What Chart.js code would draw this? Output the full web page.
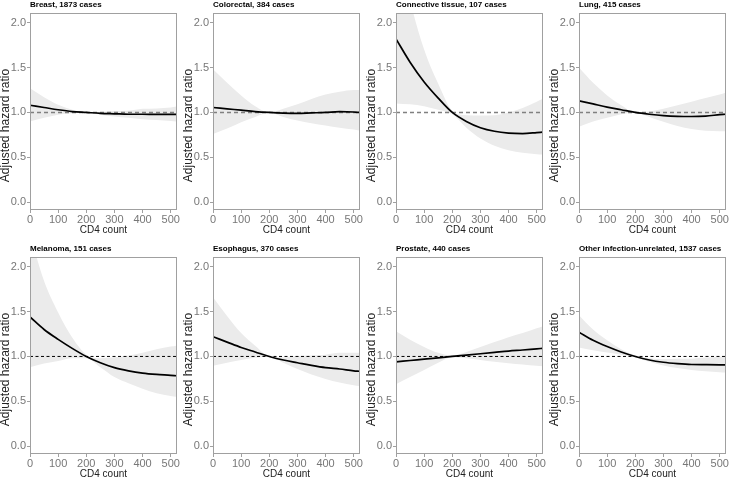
<!DOCTYPE html>
<html><head><meta charset="utf-8">
<script src="https://cdn.jsdelivr.net/npm/chart.js@4.4.1/dist/chart.umd.min.js"></script>
<style>
html,body{margin:0;padding:0;background:#fff;width:729px;height:478px;overflow:hidden;position:relative}
canvas{position:absolute}
</style></head><body>
<script>
// ---- data ----
const cd4 = [0, 50, 100, 150, 200, 250, 300, 350, 400, 450, 500, 520];
const xTicks = [0, 100, 200, 300, 400, 500];
const yTicks = [0, 0.5, 1, 1.5, 2];
const refX = [0, 522];
const refY = [1, 1];
const xTitle = "CD4 count";
const yTitle = "Adjusted hazard ratio";
const panelTitles = ["Breast, 1873 cases", "Colorectal, 384 cases", "Connective tissue, 107 cases", "Lung, 415 cases",
  "Melanoma, 151 cases", "Esophagus, 370 cases", "Prostate, 440 cases", "Other infection-unrelated, 1537 cases"];

const breastEst = [1.08, 1.055, 1.03, 1.01, 1.0, 0.99, 0.985, 0.98, 0.98, 0.978, 0.978, 0.978];
const breastLo  = [0.90, 0.94, 0.975, 0.992, 1.0, 0.975, 0.955, 0.94, 0.925, 0.915, 0.905, 0.90];
const breastHi  = [1.27, 1.17, 1.085, 1.03, 1.0, 1.005, 1.015, 1.02, 1.04, 1.045, 1.055, 1.065];

const colorectalEst = [1.055, 1.04, 1.025, 1.01, 1.0, 0.993, 0.99, 0.995, 1.0, 1.008, 1.005, 1.0];
const colorectalLo  = [0.76, 0.82, 0.89, 0.95, 1.0, 0.95, 0.91, 0.88, 0.855, 0.83, 0.81, 0.80];
const colorectalHi  = [1.48, 1.33, 1.19, 1.07, 1.0, 1.04, 1.09, 1.15, 1.20, 1.23, 1.25, 1.25];

const connectiveEst = [1.82, 1.56, 1.34, 1.16, 1.0, 0.90, 0.83, 0.79, 0.77, 0.765, 0.775, 0.78];
const connectiveLo  = [1.10, 1.09, 1.07, 1.03, 0.98, 0.83, 0.71, 0.63, 0.58, 0.55, 0.535, 0.53];
const connectiveHi  = [3.0, 2.25, 1.70, 1.32, 1.02, 0.97, 0.965, 0.97, 1.0, 1.05, 1.12, 1.15];

const lungEst = [1.13, 1.095, 1.06, 1.03, 1.0, 0.98, 0.965, 0.957, 0.955, 0.96, 0.975, 0.98];
const lungLo  = [0.84, 0.90, 0.94, 0.98, 1.0, 0.95, 0.895, 0.85, 0.815, 0.795, 0.79, 0.79];
const lungHi  = [1.50, 1.33, 1.19, 1.08, 1.0, 1.01, 1.04, 1.08, 1.12, 1.16, 1.20, 1.22];

const melanomaEst = [1.44, 1.30, 1.19, 1.09, 1.0, 0.93, 0.875, 0.84, 0.815, 0.80, 0.79, 0.785];
const melanomaLo  = [0.88, 0.92, 0.95, 0.98, 0.98, 0.88, 0.77, 0.70, 0.64, 0.59, 0.56, 0.55];
const melanomaHi  = [2.36, 1.84, 1.49, 1.21, 1.02, 0.98, 0.99, 1.01, 1.04, 1.08, 1.11, 1.12];

const esophagusEst = [1.22, 1.16, 1.10, 1.05, 1.0, 0.96, 0.93, 0.90, 0.875, 0.86, 0.84, 0.835];
const esophagusLo  = [0.895, 0.93, 0.96, 0.985, 1.0, 0.93, 0.86, 0.80, 0.75, 0.71, 0.68, 0.67];
const esophagusHi  = [1.66, 1.45, 1.26, 1.12, 1.0, 0.99, 1.005, 1.01, 1.02, 1.04, 1.04, 1.04];

const prostateEst = [0.94, 0.955, 0.97, 0.985, 1.0, 1.015, 1.03, 1.045, 1.06, 1.072, 1.085, 1.09];
const prostateLo  = [0.69, 0.77, 0.85, 0.93, 0.99, 0.98, 0.96, 0.94, 0.925, 0.91, 0.895, 0.89];
const prostateHi  = [1.28, 1.185, 1.105, 1.04, 1.01, 1.05, 1.105, 1.16, 1.215, 1.26, 1.315, 1.335];

const otherEst = [1.27, 1.18, 1.11, 1.05, 1.0, 0.96, 0.935, 0.92, 0.91, 0.908, 0.907, 0.907];
const otherLo  = [1.10, 1.07, 1.045, 1.02, 0.99, 0.94, 0.90, 0.87, 0.85, 0.835, 0.825, 0.82];
const otherHi  = [1.46, 1.30, 1.18, 1.08, 1.01, 0.98, 0.97, 0.973, 0.975, 0.987, 0.997, 1.003];

// ---- layout / style ----
const FONT = "'Liberation Sans', Arial, Helvetica, sans-serif";
Chart.defaults.font.family = FONT;
const series = [
  [breastEst, breastLo, breastHi], [colorectalEst, colorectalLo, colorectalHi],
  [connectiveEst, connectiveLo, connectiveHi], [lungEst, lungLo, lungHi],
  [melanomaEst, melanomaLo, melanomaHi], [esophagusEst, esophagusLo, esophagusHi],
  [prostateEst, prostateLo, prostateHi], [otherEst, otherLo, otherHi]
];
const boxLefts = [30, 213, 396, 579];
const boxTops = [13, 257];

const xy = (xs, ys) => xs.map((x, i) => ({x: x, y: ys[i]}));

const framePlugin = {
  id: 'frame',
  afterDatasetsDraw(chart) {
    const {ctx, chartArea: a} = chart;
    ctx.save();
    ctx.strokeStyle = '#a0a0a0';
    ctx.lineWidth = 1;
    ctx.strokeRect(Math.round(a.left) + 0.5, Math.round(a.top) + 0.5, Math.round(a.width) - 1, Math.round(a.height) - 1);
    ctx.restore();
  }
};
// y-axis title, placed a little below the panel centre as in the reference
const yTitlePlugin = {
  id: 'ytitle',
  afterDraw(chart) {
    const {ctx, chartArea: a} = chart;
    ctx.save();
    ctx.translate(5.5, (a.top + a.bottom) / 2 + 14);
    ctx.rotate(-Math.PI / 2);
    ctx.font = "12px " + FONT;
    ctx.fillStyle = '#222';
    ctx.textAlign = 'center';
    ctx.textBaseline = 'middle';
    ctx.fillText(yTitle, 0, 0);
    ctx.restore();
  }
};

series.forEach((s, idx) => {
  const row = Math.floor(idx / 4), col = idx % 4;
  const cv = document.createElement('canvas');
  const W = 180, H = 234;
  cv.width = W; cv.height = H;
  cv.style.left = (boxLefts[col] - 30) + 'px';
  cv.style.top = (boxTops[row] - 13) + 'px';
  cv.style.width = W + 'px'; cv.style.height = H + 'px';
  document.body.appendChild(cv);
  const topRow = row === 0;
  new Chart(cv.getContext('2d'), {
    type: 'line',
    data: {
      datasets: [
        {label: 'estimate', data: xy(cd4, s[0]), borderColor: '#000', borderWidth: 1.7, pointRadius: 0, cubicInterpolationMode: 'monotone', fill: false, order: 0, clip: 0},
        {label: 'reference', data: xy(refX, refY), borderColor: topRow ? '#808080' : '#000', borderWidth: topRow ? 1.6 : 1, borderDash: topRow ? [4, 3] : [3, 2.5], pointRadius: 0, fill: false, order: 1, clip: 0},
        {label: 'upper 95% CI', data: xy(cd4, s[2]), borderColor: 'rgba(0,0,0,0)', borderWidth: 0, pointRadius: 0, backgroundColor: '#ebebeb', fill: '+1', cubicInterpolationMode: 'monotone', order: 2, clip: 0},
        {label: 'lower 95% CI', data: xy(cd4, s[1]), borderColor: 'rgba(0,0,0,0)', borderWidth: 0, pointRadius: 0, fill: false, cubicInterpolationMode: 'monotone', order: 3, clip: 0}
      ]
    },
    options: {
      responsive: false, animation: false, devicePixelRatio: 1,
      layout: {padding: 0},
      plugins: {
        legend: {display: false}, tooltip: {enabled: false},
        title: {display: true, text: panelTitles[idx], align: 'start', fullSize: false, color: '#000',
          font: {family: FONT, size: 8, weight: 'bold', lineHeight: 1.2}, padding: {top: 0, bottom: 3.4}}
      },
      scales: {
        x: {
          type: 'linear', min: 0, max: 522,
          afterBuildTicks: sc => { sc.ticks = xTicks.map(v => ({value: v})); },
          afterFit: sc => { sc.height = 24; },
          grid: {display: true, drawOnChartArea: false, drawTicks: true, tickLength: 3, color: '#a0a0a0', lineWidth: 1},
          border: {display: false},
          ticks: {padding: 0, color: '#777', font: {size: 11}, maxRotation: 0, autoSkip: false},
          title: {display: true, text: xTitle, color: '#222', font: {size: 10, lineHeight: 1}, padding: {top: 0, bottom: -1}}
        },
        y: {
          type: 'linear', min: -0.087, max: 2.108,
          afterBuildTicks: sc => { sc.ticks = yTicks.map(v => ({value: v})); },
          afterFit: sc => { sc.width = 30; },
          grid: {display: true, drawOnChartArea: false, drawTicks: true, tickLength: 3, color: '#a0a0a0', lineWidth: 1},
          border: {display: false},
          ticks: {padding: 1, color: '#777', font: {size: 11}, callback: v => Number(v).toFixed(1)},
          title: {display: false, text: yTitle}
        }
      }
    },
    plugins: [framePlugin, yTitlePlugin]
  });
});
</script>
</body></html>
